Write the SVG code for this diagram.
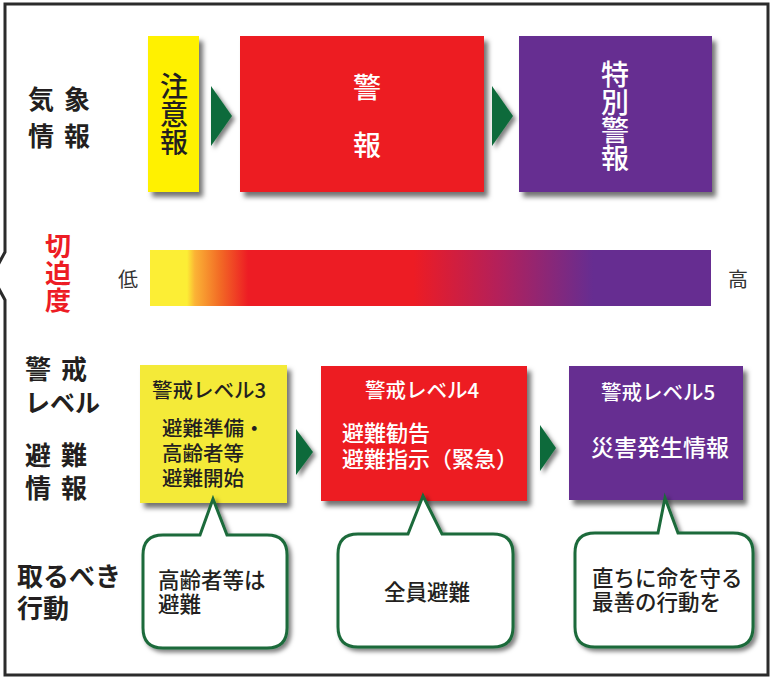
<svg xmlns="http://www.w3.org/2000/svg" width="773" height="677" viewBox="0 0 773 677">
<defs>
<style>
text{font-family:"Noto Sans CJK JP","Noto Sans",sans-serif;}
.lbl{font-size:26px;font-weight:700;fill:#231f20;}
.big{font-size:28px;font-weight:500;}
.vt{writing-mode:vertical-rl;text-anchor:middle;}
.lv{font-size:20.5px;font-weight:500;}
.bt{font-size:21.5px;font-weight:500;fill:#231f20;}
.arrow{fill:#0f6b3a;}
.bubble{fill:#fff;stroke:#1a6b3a;stroke-width:3;}
</style>
<filter id="sh" x="-10%" y="-10%" width="130%" height="130%">
<feDropShadow dx="4" dy="5" stdDeviation="2.5" flood-color="#000" flood-opacity="0.55"/>
</filter>
<filter id="sha" x="-30%" y="-30%" width="170%" height="170%">
<feDropShadow dx="3" dy="3" stdDeviation="2" flood-color="#000" flood-opacity="0.5"/>
</filter>
<linearGradient id="grad" x1="150" y1="0" x2="711" y2="0" gradientUnits="userSpaceOnUse">
<stop offset="0" stop-color="#fcee35"/>
<stop offset="0.066" stop-color="#fcee35"/>
<stop offset="0.08" stop-color="#fbb335"/>
<stop offset="0.125" stop-color="#f26a25"/>
<stop offset="0.175" stop-color="#ed1c24"/>
<stop offset="0.47" stop-color="#ed1c24"/>
<stop offset="0.62" stop-color="#b4205a"/>
<stop offset="0.79" stop-color="#662d91"/>
<stop offset="1" stop-color="#662d91"/>
</linearGradient>
</defs>
<rect width="773" height="677" fill="#fff"/>
<path d="M5,4 H768 V675 H5 V300 L-8,276 L5,252 Z" fill="none" stroke="#2b2b2b" stroke-width="3"/>

<g id="labels">
<text class="lbl"><tspan x="28" y="109">気</tspan><tspan x="64" y="109">象</tspan><tspan x="28" y="146">情</tspan><tspan x="64" y="146">報</tspan></text>
<text class="vt" x="58" y="274" font-size="26" font-weight="700" fill="#ed1c24" letter-spacing="1">切迫度</text>
<text x="128" y="287" font-size="20" fill="#333" text-anchor="middle">低</text>
<text x="738" y="287" font-size="20" fill="#333" text-anchor="middle">高</text>
<text class="lbl"><tspan x="25" y="379">警</tspan><tspan x="61" y="379">戒</tspan><tspan x="25" y="412" font-size="25">レベル</tspan></text>
<text class="lbl"><tspan x="25" y="465">避</tspan><tspan x="61" y="465">難</tspan><tspan x="25" y="498">情</tspan><tspan x="61" y="498">報</tspan></text>
<text class="lbl"><tspan x="17" y="586">取るべき</tspan><tspan x="17" y="618">行動</tspan></text>
</g>

<g id="bar">
<rect x="150" y="250" width="561" height="56" fill="url(#grad)"/>
</g>

<g id="n-chuiho">
<rect x="148" y="36" width="51" height="156" fill="#fff100" filter="url(#sh)"/>
<text class="big vt" x="174" y="114" fill="#231f20">注意報</text>
</g>
<g id="n-keiho">
<rect x="240" y="36" width="244" height="156" fill="#ed1c24" filter="url(#sh)"/>
<text class="big" text-anchor="middle" fill="#fff"><tspan x="367" y="98">警</tspan><tspan x="367" y="156">報</tspan></text>
</g>
<g id="n-tokubetsu">
<rect x="519" y="36" width="193" height="156" fill="#662d91" filter="url(#sh)"/>
<text class="big vt" x="615" y="116" fill="#fff">特別警報</text>
</g>

<g id="n-lv3">
<rect x="140" y="365" width="147" height="138" fill="#f4ea38" filter="url(#sh)"/>
<text class="lv" x="152" y="398" fill="#231f20">警戒レベル3</text>
<text class="lv" fill="#231f20"><tspan x="162" y="436">避難準備・</tspan><tspan x="162" y="461">高齢者等</tspan><tspan x="162" y="486">避難開始</tspan></text>
</g>
<g id="n-lv4">
<rect x="321" y="366" width="206" height="135" fill="#ed1c24" filter="url(#sh)"/>
<text class="lv" x="422" y="398" text-anchor="middle" fill="#fff">警戒レベル4</text>
<text font-size="22" font-weight="500" fill="#fff"><tspan x="342" y="441">避難勧告</tspan><tspan x="342" y="467">避難指示（緊急）</tspan></text>
</g>
<g id="n-lv5">
<rect x="569" y="366" width="174" height="134" fill="#662d91" filter="url(#sh)"/>
<text class="lv" x="658" y="400" text-anchor="middle" fill="#fff">警戒レベル5</text>
<text x="660" y="456" font-size="23" font-weight="500" text-anchor="middle" fill="#fff">災害発生情報</text>
</g>

<g id="connectors">
<polygon class="arrow" points="211,86 232,116 211,146" filter="url(#sha)"/>
<polygon class="arrow" points="492,86 513,116 492,146" filter="url(#sha)"/>
<polygon class="arrow" points="296,429 313,452 296,475" filter="url(#sha)"/>
<polygon class="arrow" points="540,425 556,448 540,471" filter="url(#sha)"/>
</g>

<g id="b1">
<path class="bubble" filter="url(#sha)" d="M163,535 L200,535 L213,499 L227,535 L267,535 Q287,535 287,555 L287,628 Q287,648 267,648 L163,648 Q143,648 143,628 L143,555 Q143,535 163,535 Z"/>
<text class="bt"><tspan x="158" y="588">高齢者等は</tspan><tspan x="158" y="612">避難</tspan></text>
</g>
<g id="b2">
<path class="bubble" filter="url(#sha)" d="M358,534 L408,534 L423,496 L442,534 L493,534 Q513,534 513,554 L513,627 Q513,647 493,647 L358,647 Q338,647 338,627 L338,554 Q338,534 358,534 Z"/>
<text class="bt" x="427" y="600" text-anchor="middle">全員避難</text>
</g>
<g id="b3">
<path class="bubble" filter="url(#sha)" d="M595,533 L658,533 L665,498 L678,533 L733,533 Q753,533 753,553 L753,627 Q753,647 733,647 L595,647 Q575,647 575,627 L575,553 Q575,533 595,533 Z"/>
<text class="bt"><tspan x="592" y="586">直ちに命を守る</tspan><tspan x="592" y="610">最善の行動を</tspan></text>
</g>
</svg>
